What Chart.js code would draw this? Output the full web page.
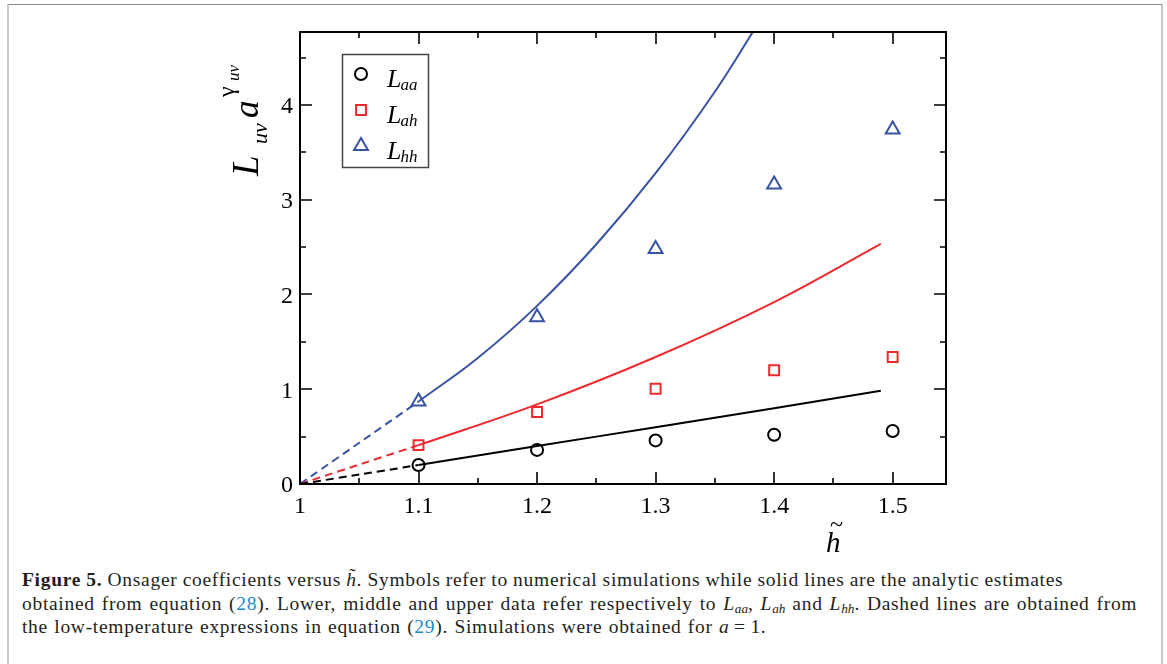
<!DOCTYPE html>
<html>
<head>
<meta charset="utf-8">
<script src="https://cdn.jsdelivr.net/npm/chart.js@4.4.1/dist/chart.umd.min.js"></script>
<style>
  html, body { margin: 0; padding: 0; background: #fff; overflow: hidden; }
  body { width: 1167px; height: 664px; position: relative; }
  .frame { position: absolute; left: 7px; top: 4px; width: 1152px; height: 700px;
           border-top: 1px solid #8c8c8c; border-left: 2px solid #c9c9c9; border-right: 2px solid #c9c9c9; }
  .plot { position: absolute; left: 0; top: 0; width: 1167px; height: 560px; }
  .caption { position: absolute; left: 22px; top: 568px; font-family: "Liberation Serif", serif;
             font-size: 19.5px; letter-spacing: 0.7px; line-height: 23.5px; color: #231f20; white-space: nowrap; }
  .caption a { color: #1b8ac7; text-decoration: none; }
  .caption sub { font-size: 0.68em; vertical-align: -0.2em; line-height: 0; letter-spacing: 0; }
  .l1 { word-spacing: -0.35px; }
  .l2 { word-spacing: 1.4px; }
  .l3 { word-spacing: 0.8px; }
</style>
</head>
<body>
<div class="frame"></div>
<div class="plot"><canvas id="chart"></canvas></div>
<div class="caption">
  <span class="l1"><b>Figure 5.</b> Onsager coefficients versus <i>h&#771;</i>. Symbols refer to numerical simulations while solid lines are the analytic estimates</span><br>
  <span class="l2">obtained from equation (<a>28</a>). Lower, middle and upper data refer respectively to <i>L<sub>aa</sub></i>, <i>L<sub>ah</sub></i> and <i>L<sub>hh</sub></i>. Dashed lines are obtained from</span><br>
  <span class="l3">the low-temperature expressions in equation (<a>29</a>). Simulations were obtained for <i>a</i>&#8201;=&#8201;1.</span>
</div>
<script>
// axes
const xRange = [1, 1.545];
const yRange = [0, 4.77];
const xTicks = [1, 1.1, 1.2, 1.3, 1.4, 1.5];
const xMinor = [1.05, 1.15, 1.25, 1.35, 1.45];
const yTicks = [0, 1, 2, 3, 4];
const yMinor = [0.5, 1.5, 2.5, 3.5, 4.5];

// simulations (symbols)
const hSim  = [1.1, 1.2, 1.3, 1.4, 1.5];
const simAA = [0.20, 0.36, 0.46, 0.52, 0.56];
const simAH = [0.41, 0.76, 1.005, 1.20, 1.34];
const simHH = [0.87, 1.76, 2.48, 3.16, 3.74];

// analytic estimates, eq. (28)
const hFit  = [1.1, 1.2, 1.3, 1.4, 1.49];
const fitAA = [0.20, 0.40, 0.60, 0.80, 0.985];
const fitAH = [0.41, 0.84, 1.34, 1.92, 2.535];
const hFitHH = [1.1, 1.15, 1.2, 1.25, 1.3, 1.35, 1.385];
const fitHH  = [0.87, 1.33, 1.88, 2.53, 3.28, 4.14, 4.83];

// low-temperature expressions, eq. (29)
const hLowT = [1, 1.1];
const lowAA = [0, 0.20];
const lowAH = [0, 0.41];
const lowHH = [0, 0.87];

const legendSubs = ['aa', 'ah', 'hh'];

const BLACK = '#000000', RED = '#ee2a2e', BLUE = '#3953a4';
const SERIF = '"Liberation Serif", "Times New Roman", serif';

const pts = (xs, ys) => xs.map((x, i) => ({ x, y: ys[i] }));

const symbols = [
  { data: simAA, color: BLACK, style: 'circle', radius: 6 },
  { data: simAH, color: RED, style: 'rect', radius: 7 },
  { data: simHH, color: BLUE, style: 'triangle', radius: 8 }
];

function curve(xs, ys, color, dashed) {
  return {
    data: pts(xs, ys), showLine: true, borderColor: color, borderWidth: 2,
    borderDash: dashed ? [8, 5] : [], pointRadius: 0, pointHoverRadius: 0,
    tension: 0.4, clip: 0, fill: false
  };
}

const datasets = [
  curve(hLowT, lowAA, BLACK, true),
  curve(hLowT, lowAH, RED, true),
  curve(hLowT, lowHH, BLUE, true),
  curve(hFit, fitAA, BLACK, false),
  curve(hFit, fitAH, RED, false),
  curve(hFitHH, fitHH, BLUE, false)
].concat(symbols.map(s => ({
  data: pts(hSim, s.data), showLine: false, pointStyle: s.style, pointRadius: s.radius,
  pointBorderWidth: 2, pointBorderColor: s.color, pointBackgroundColor: 'rgba(0,0,0,0)',
  pointHoverRadius: s.radius
})));

// draws one piece of the rotated y title at a given offset along the axis
function piece(ctx, text, font, along, across) {
  ctx.font = font;
  ctx.fillText(text, along, across);
}

// frame, inward ticks, legend and axis titles
const decor = {
  id: 'decor',
  afterDraw(chart) {
    const { ctx, chartArea: a, scales: { x, y } } = chart;
    ctx.save();
    ctx.strokeStyle = '#000';
    ctx.lineWidth = 2;
    ctx.strokeRect(a.left, a.top, a.right - a.left, a.bottom - a.top);

    ctx.lineWidth = 1.6;
    ctx.beginPath();
    const xt = (vals, len) => vals.forEach(v => {
      const p = Math.round(x.getPixelForValue(v));
      ctx.moveTo(p, a.bottom); ctx.lineTo(p, a.bottom - len);
      ctx.moveTo(p, a.top); ctx.lineTo(p, a.top + len);
    });
    const yt = (vals, len) => vals.forEach(v => {
      const p = Math.round(y.getPixelForValue(v));
      ctx.moveTo(a.left, p); ctx.lineTo(a.left + len, p);
      ctx.moveTo(a.right, p); ctx.lineTo(a.right - len, p);
    });
    xt(xTicks, 12); xt(xMinor, 6);
    yt(yTicks, 12); yt(yMinor, 6);
    ctx.stroke();

    // legend
    const lx = a.left + 42, ly = a.top + 22;
    ctx.strokeStyle = '#444';
    ctx.lineWidth = 1.5;
    ctx.strokeRect(lx + 0.5, ly + 0.5, 86, 113);
    symbols.forEach((s, i) => {
      const cy = ly + 20 + i * 36;
      ctx.strokeStyle = s.color;
      ctx.fillStyle = 'rgba(0,0,0,0)';
      ctx.lineWidth = 2;
      Chart.helpers.drawPoint(ctx, { pointStyle: s.style, radius: s.radius, borderWidth: 2 }, lx + 19, cy);
      ctx.fillStyle = '#000';
      ctx.font = 'italic 26px ' + SERIF;
      ctx.textBaseline = 'alphabetic';
      ctx.textAlign = 'left';
      const base = cy + 12.5;
      ctx.fillText('L', lx + 45, base);
      const wL = ctx.measureText('L').width;
      ctx.font = 'italic 17px ' + SERIF;
      ctx.fillText(legendSubs[i], lx + 45 + wL - 1, base + 3);
    });

    // y title: L_uv a^(gamma_uv), rotated
    ctx.save();
    ctx.translate(258, 179);
    ctx.rotate(-Math.PI / 2);
    ctx.fillStyle = '#000';
    ctx.textAlign = 'left';
    piece(ctx, 'L', 'italic 37px ' + SERIF, 3, 0);
    piece(ctx, 'uv', 'italic 22px ' + SERIF, 35, 9);
    piece(ctx, 'a', 'italic 35px ' + SERIF, 61, 0);
    piece(ctx, '\u03b3', '24px ' + SERIF, 82, -24);
    piece(ctx, 'uv', 'italic 17px ' + SERIF, 98, -19);
    ctx.restore();

    // x title: h tilde
    ctx.fillStyle = '#000';
    ctx.textAlign = 'left';
    ctx.font = 'italic 29px ' + SERIF;
    ctx.fillText('h', 826, 552);
    ctx.font = '24px ' + SERIF;
    ctx.fillText('~', 830, 532);
    ctx.restore();
  }
};

new Chart(document.getElementById('chart'), {
  type: 'scatter',
  data: { datasets },
  options: {
    responsive: true,
    maintainAspectRatio: false,
    animation: false,
    layout: { padding: { left: 180, right: 221, top: 32, bottom: 0 } },
    plugins: { legend: { display: false }, tooltip: { enabled: false } },
    scales: {
      x: {
        type: 'linear', min: xRange[0], max: xRange[1],
        grid: { display: false, drawTicks: false }, border: { display: false },
        afterBuildTicks: s => { s.ticks = xTicks.map(v => ({ value: v })); },
        afterFit: s => { s.height = 76; },
        ticks: { color: '#000', padding: 8, maxRotation: 0, font: { family: SERIF, size: 24 },
                 callback: v => String(v) }
      },
      y: {
        type: 'linear', min: yRange[0], max: yRange[1],
        grid: { display: false, drawTicks: false }, border: { display: false },
        afterBuildTicks: s => { s.ticks = yTicks.map(v => ({ value: v })); },
        afterFit: s => { s.width = 120; },
        ticks: { color: '#000', padding: 7, labelOffset: 2, font: { family: SERIF, size: 24 },
                 callback: v => String(v) }
      }
    }
  },
  plugins: [decor]
});
</script>
</body>
</html>
